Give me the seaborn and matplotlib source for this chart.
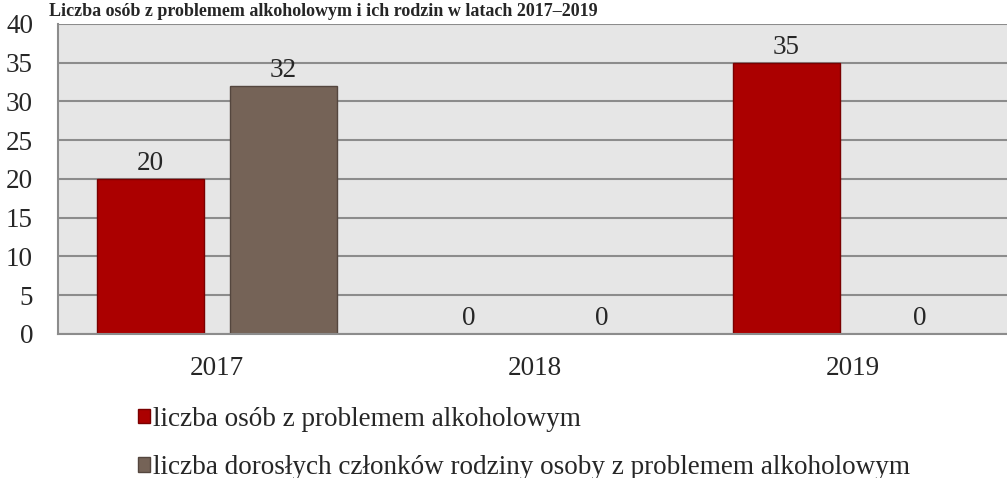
import matplotlib
matplotlib.use("Agg")
import matplotlib.pyplot as plt
import seaborn as sns
import pandas as pd
from matplotlib.patches import Patch

years = ["2017", "2018", "2019"]
series_names = [
    "liczba osób z problemem alkoholowym",
    "liczba dorosłych członków rodziny osoby z problemem alkoholowym",
]
persons = [20, 0, 35]
family = [32, 0, 0]
yticks = [0, 5, 10, 15, 20, 25, 30, 35, 40]
title = "Liczba osób z problemem alkoholowym i ich rodzin w latach 2017–2019"

colors = ["#ab0000", "#756357"]
edges = ["#7a0000", "#54463e"]

df = pd.DataFrame({
    "rok": years * 2,
    "wartość": persons + family,
    "seria": [series_names[0]] * len(years) + [series_names[1]] * len(years),
})

sns.set_theme(style="white")
plt.rcParams["font.family"] = ["Liberation Serif", "DejaVu Serif"]
FS = 19.5

fig = plt.figure(figsize=(10.07, 4.78), dpi=100)
ax = fig.add_axes([0.0576, 0.3013, 0.9474, 0.6485])
sns.barplot(data=df, x="rok", y="wartość", hue="seria", palette=colors,
            width=0.836, gap=0.2, ax=ax, legend=False, saturation=1)

for i, cont in enumerate(ax.containers):
    for p in cont.patches:
        p.set_edgecolor(edges[i])
        p.set_linewidth(1.0)
    ax.bar_label(cont, labels=[str(int(round(v))) for v in cont.datavalues],
                 fontsize=FS, padding=2)

ax.set_facecolor("#e6e6e6")
ax.set_ylim(0, 40)
ax.set_yticks(yticks)
ax.set_yticklabels([str(t) for t in yticks], fontsize=FS)
ax.tick_params(axis="x", labelsize=FS, length=0, pad=16)
ax.tick_params(axis="y", length=0, pad=18)
ax.yaxis.grid(True, color="#8c8c8c", linewidth=1.5)
ax.set_axisbelow(True)
ax.set_xlabel("")
ax.set_ylabel("")
for s in ["left", "bottom"]:
    ax.spines[s].set_color("#8c8c8c")
    ax.spines[s].set_linewidth(1.5)
for s in ["top", "right"]:
    ax.spines[s].set_visible(False)

handles = [Patch(facecolor=colors[i], edgecolor=edges[i], label=series_names[i]) for i in range(2)]
fig.legend(handles=handles, loc="upper left", bbox_to_anchor=(0.126, 0.172),
           frameon=False, fontsize=FS, handlelength=0.45, handleheight=0.45,
           handletextpad=0.12, labelspacing=0.86, borderaxespad=0)

fig.text(598 / 1007, 1 - 3 / 478, title, ha="right", va="top",
         fontsize=13, fontweight="bold")

fig.savefig("out.png", dpi=100)
